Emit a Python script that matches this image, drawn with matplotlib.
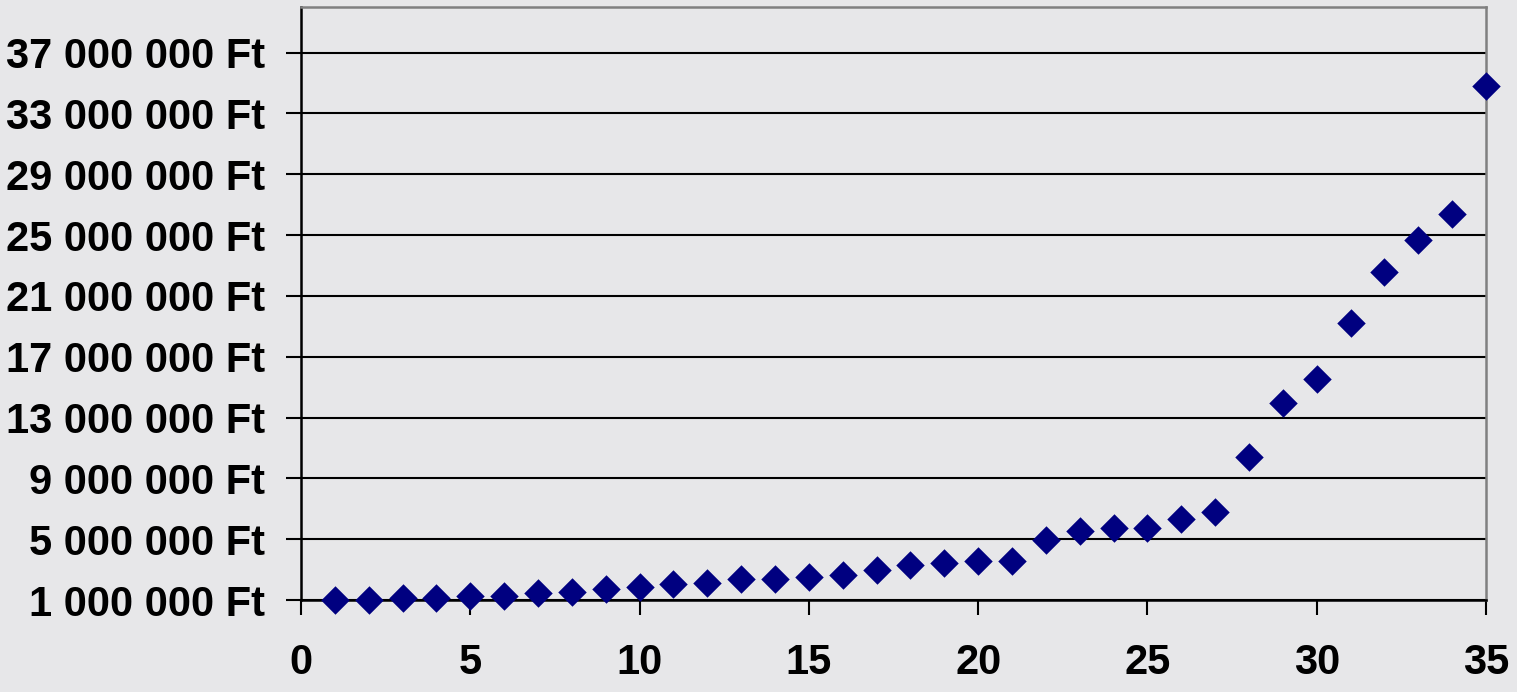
import matplotlib
matplotlib.use("Agg")
import matplotlib.pyplot as plt
from matplotlib.ticker import FuncFormatter

x_vals = list(range(1, 36))
y_vals = [1.00e6, 1.00e6, 1.11e6, 1.11e6, 1.26e6, 1.26e6, 1.44e6, 1.55e6, 1.72e6, 1.88e6,
          2.03e6, 2.10e6, 2.36e6, 2.36e6, 2.49e6, 2.65e6, 2.97e6, 3.28e6, 3.42e6, 3.58e6,
          3.57e6, 4.95e6, 5.56e6, 5.72e6, 5.72e6, 6.33e6, 6.77e6, 10.43e6, 13.98e6, 15.52e6,
          19.2e6, 22.6e6, 24.7e6, 26.4e6, 34.8e6]
y_ticks = list(range(1_000_000, 38_000_000, 4_000_000))
x_ticks = list(range(0, 36, 5))

plt.rcParams['font.family'] = ['Liberation Sans', 'DejaVu Sans']

bg = '#e7e7e9'
fig = plt.figure(figsize=(15.17, 6.92), dpi=100, facecolor=bg)
ax = fig.add_axes([301/1517, 92/692, (1486-301)/1517, (600-7)/692])
ax.set_facecolor(bg)

ax.scatter(x_vals, y_vals, marker='D', s=14.5**2, color='#000080', zorder=3, linewidths=0, clip_on=False)

ax.set_xlim(0, 35)
ax.set_ylim(1_000_000, 40_000_000)
ax.set_yticks(y_ticks)
ax.set_xticks(x_ticks)

def fmt(v, pos):
    s = f"{int(round(v)):,}".replace(",", " ")
    return s + " Ft"
ax.yaxis.set_major_formatter(FuncFormatter(fmt))

ax.grid(axis='y', color='black', linewidth=1.5, zorder=1)
ax.set_axisbelow(True)

for side in ('left', 'bottom'):
    ax.spines[side].set_color('black')
    ax.spines[side].set_linewidth(1.8)
for side in ('top', 'right'):
    ax.spines[side].set_color('#808080')
    ax.spines[side].set_linewidth(1.8)

ax.tick_params(axis='y', direction='out', length=11, width=1.5, pad=15,
               labelsize=30, colors='black')
ax.tick_params(axis='x', direction='out', length=11, width=1.5, pad=20,
               labelsize=30, colors='black')
for lab in ax.get_xticklabels() + ax.get_yticklabels():
    lab.set_fontweight('bold')

fig.savefig('out.png', dpi=100, facecolor=bg)
